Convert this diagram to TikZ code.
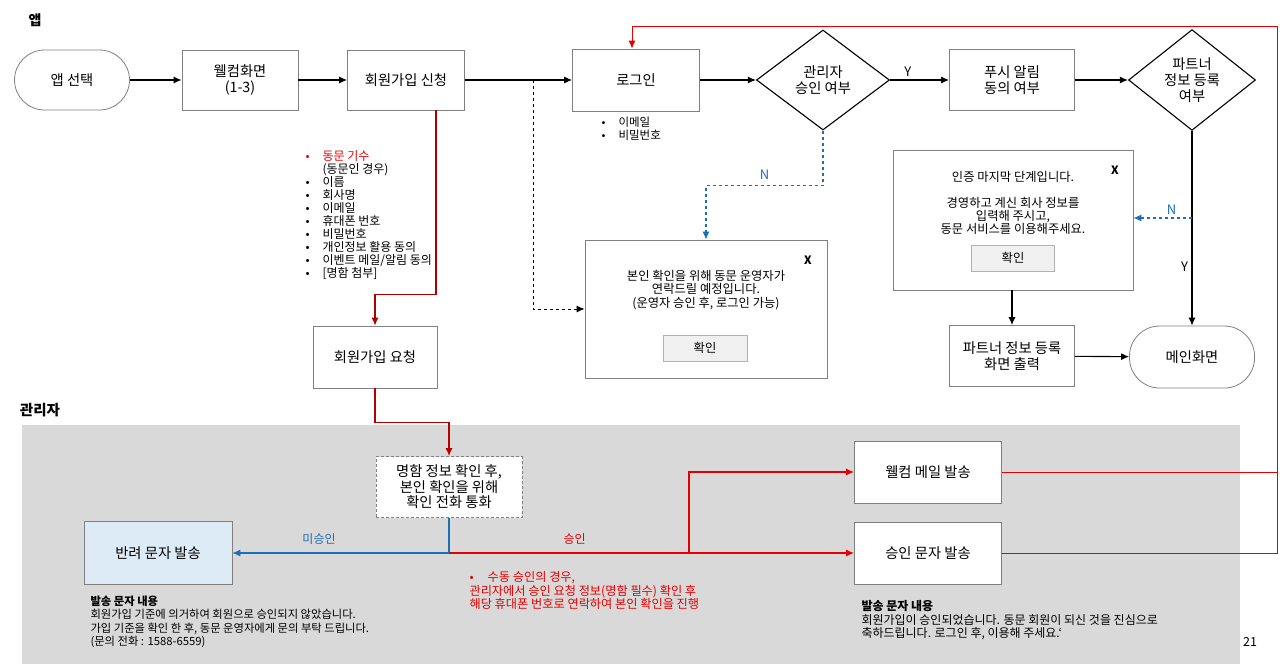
\documentclass[tikz,border=0pt]{standalone}
\usepackage{fontspec}
\setmainfont{Noto Sans CJK KR}
\usetikzlibrary{shapes.geometric,arrows.meta,calc}
\definecolor{ared}{RGB}{228,0,0}
\definecolor{ablue}{RGB}{30,110,180}
\definecolor{boxgray}{RGB}{128,128,128}
\definecolor{panelgray}{RGB}{217,217,217}
\definecolor{rejectfill}{RGB}{221,235,247}
\definecolor{btnfill}{RGB}{240,240,240}
\newcommand{\bul}{\makebox[17pt][l]{•}}
\tikzset{
  procbox/.style={draw=boxgray, fill=white, line width=0.8pt, minimum width=117pt,
    minimum height=61pt, align=center, font=\fontsize{14.3}{15.5}\selectfont},
  terminal/.style={procbox, rounded corners=30pt},
  decision/.style={diamond, draw=black, fill=white, line width=1.1pt, minimum width=133pt,
    minimum height=100pt, inner sep=0pt, align=center, font=\fontsize{14.3}{16}\selectfont},
  popbox/.style={draw=boxgray, fill=white, line width=0.8pt},
  poptext/.style={align=center, font=\fontsize{12.3}{13.3}\selectfont},
  btn/.style={draw=gray!60, fill=btnfill, line width=0.8pt, minimum width=84pt,
    minimum height=26pt, font=\fontsize{12.3}{13}\selectfont},
  closex/.style={font=\bfseries\fontsize{11.5}{14}\selectfont},
  note/.style={anchor=north west, align=left, font=\fontsize{11.3}{13.5}\selectfont},
  arr/.style={-{Latex[length=8pt,width=7pt]}, line width=1.1pt},
  redarr/.style={arr, draw=ared, line width=1.2pt},
  bluearr/.style={arr, draw=ablue, line width=1.1pt},
  lbl/.style={font=\fontsize{13}{14}\selectfont}
}
\begin{document}
\begin{tikzpicture}[x=1pt,y=-1pt]
  \useasboundingbox (0,0) rectangle (1280,664);
  % admin panel
  \fill[panelgray] (22,425) rectangle (1240,664);
  \node[font=\bfseries\fontsize{14}{16}\selectfont] (applabel) at (35,20) {앱};
  \node[font=\bfseries\fontsize{14.5}{16}\selectfont] (adminlabel) at (40,410) {관리자};

  % app flow
  \node[terminal, minimum width=115pt, minimum height=60pt] (appsel) at (72,80) {앱 선택};
  \node[procbox, minimum width=116pt, minimum height=60pt] (welcome) at (240,80) {웰컴화면\\(1-3)};
  \node[procbox, minimum height=60pt] (signup) at (406,80) {회원가입 신청};
  \node[procbox, minimum width=127pt, minimum height=62pt] (login) at (636,80) {로그인};
  \node[decision] (approve) at (823,80) {관리자\\승인 여부};
  \node[procbox, minimum width=125pt] (push) at (1012,80) {푸시 알림\\동의 여부};
  \node[decision, minimum width=127pt] (partner) at (1192,80) {파트너\\정보 등록\\여부};
  \node[procbox, minimum width=125pt] (pscreen) at (1012,356) {파트너 정보 등록\\화면 출력};
  \node[terminal, minimum width=125pt, minimum height=62pt] (mainscr) at (1192,357) {메인화면};
  \node[procbox, minimum width=124pt, minimum height=62pt] (request) at (375,357) {회원가입 요청};

  % login fields
  \node[note, font=\fontsize{11.5}{13}\selectfont] (loginfields) at (598,113) {\bul 이메일\\\bul 비밀번호};

  % signup fields
  \node[note, font=\fontsize{12}{13}\selectfont] (signupfields) at (302,147)
    {\textcolor{ared}{\bul 동문 기수}\\\makebox[17pt]{}(동문인 경우)\\\bul 이름\\\bul 회사명\\\bul 이메일\\
     \bul 휴대폰 번호\\\bul 비밀번호\\\bul 개인정보 활용 동의\\\bul 이벤트 메일/알림 동의\\\bul [명함 첨부]};

  % popup: waiting for approval
  \node[popbox, minimum width=242pt, minimum height=138pt] (popwait) at (706,309) {};
  \node[closex] (popwaitx) at (808,260) {X};
  \node[poptext] (popwaittxt) at (706,290) {본인 확인을 위해 동문 운영자가\\연락드릴 예정입니다.\\(운영자 승인 후, 로그인 가능)};
  \node[btn] (popwaitok) at (705,348) {확인};

  % popup: partner info
  \node[popbox, minimum width=240pt, minimum height=140pt] (poppart) at (1013,220) {};
  \node[closex] (poppartx) at (1115,170) {X};
  \node[poptext] (popparttxt1) at (1013,177) {인증 마지막 단계입니다.};
  \node[poptext] (popparttxt2) at (1013,216) {경영하고 계신 회사 정보를\\입력해 주시고,\\동문 서비스를 이용해주세요.};
  \node[btn, minimum width=83pt] (poppartok) at (1013,258) {확인};

  % admin flow
  \node[procbox, draw=gray, dashed, dash pattern=on 3pt off 2pt, minimum width=146pt] (card) at (449,487)
    {명함 정보 확인 후,\\본인 확인을 위해\\확인 전화 통화};
  \node[procbox, fill=rejectfill, minimum width=148pt, minimum height=63pt] (reject) at (158,553) {반려 문자 발송};
  \node[procbox, minimum width=147pt, minimum height=62pt] (welmail) at (928,472) {웰컴 메일 발송};
  \node[procbox, minimum width=147pt, minimum height=62pt] (apprsms) at (928,553) {승인 문자 발송};

  \node[note, text=ared, font=\fontsize{12.2}{13.5}\selectfont] (manualnote) at (466,568)
    {•\hspace{14pt}수동 승인의 경우,\\관리자에서 승인 요청 정보(명함 필수) 확인 후\\해당 휴대폰 번호로 연락하여 본인 확인을 진행};
  \node[note] (rejectmsg) at (87,592)
    {\textbf{발송 문자 내용}\\회원가입 기준에 의거하여 회원으로 승인되지 않았습니다.\\가입 기준을 확인 한 후, 동문 운영자에게 문의 부탁 드립니다.\\(문의 전화 : 1588-6559)};
  \node[note, font=\fontsize{12}{13.5}\selectfont] (apprmsg) at (858,597)
    {\textbf{발송 문자 내용}\\회원가입이 승인되었습니다. 동문 회원이 되신 것을 진심으로\\축하드립니다. 로그인 후, 이용해 주세요.`};
  \node[font=\fontsize{12.5}{14}\selectfont] (pagenum) at (1250,642) {21};

  % connectors
  \coordinate (dsplit) at (533,80);
  \coordinate (nsplit) at (1192,218);
  \coordinate (fork) at (689,553);
  \coordinate (rtop) at (1277,26);
  \draw[arr] (appsel) -- (welcome);
  \draw[arr] (welcome) -- (signup);
  \draw[arr] (signup) -- (login);
  \draw[arr] (login) -- (approve);
  \draw[arr] (approve) -- node[lbl, above, pos=0.3] {Y} (push);
  \draw[arr] (push) -- (partner);
  \draw[arr] (partner) -- node[lbl, left, pos=0.7] {Y} (mainscr);
  \draw[arr] (poppart.south -| pscreen) -- (pscreen);
  \draw[arr] (pscreen) -- (mainscr);
  \draw[arr, dashed, line width=0.9pt] (dsplit) |- (popwait.west);
  \draw[bluearr, dashed] (approve.south) -- ++(0,55) -| node[lbl, text=ablue, above, pos=0.25, yshift=2pt] {N} (popwait.north);
  \draw[bluearr, dashed] (nsplit) -- node[lbl, text=ablue, above, pos=0.35] {N} (nsplit -| poppart.east);
  \draw[redarr, draw=ared!75!black] ([xshift=30pt]signup.south) -- ++(0,184) -| (request.north);
  \draw[redarr, draw=ared!80!black] (request.south) -- ++(0,34) -| (card.north);
  \draw[bluearr] (card.south) |- node[text=ablue, above, pos=0.8, yshift=5pt, font=\fontsize{12}{13}\selectfont] {미승인} (reject.east);
  \draw[redarr] (card.south |- apprsms.west) -- node[text=ared, above, pos=0.31, yshift=5pt, font=\fontsize{12}{13}\selectfont] {승인} (apprsms.west);
  \draw[redarr] (fork) |- (welmail.west);
  \draw[redarr, line width=1pt] (apprsms.east) -| (rtop) -| ([xshift=-4pt]login.north);
  \draw[ared, line width=1pt] (welmail.east) -- (welmail.east -| rtop);
\end{tikzpicture}
\end{document}
